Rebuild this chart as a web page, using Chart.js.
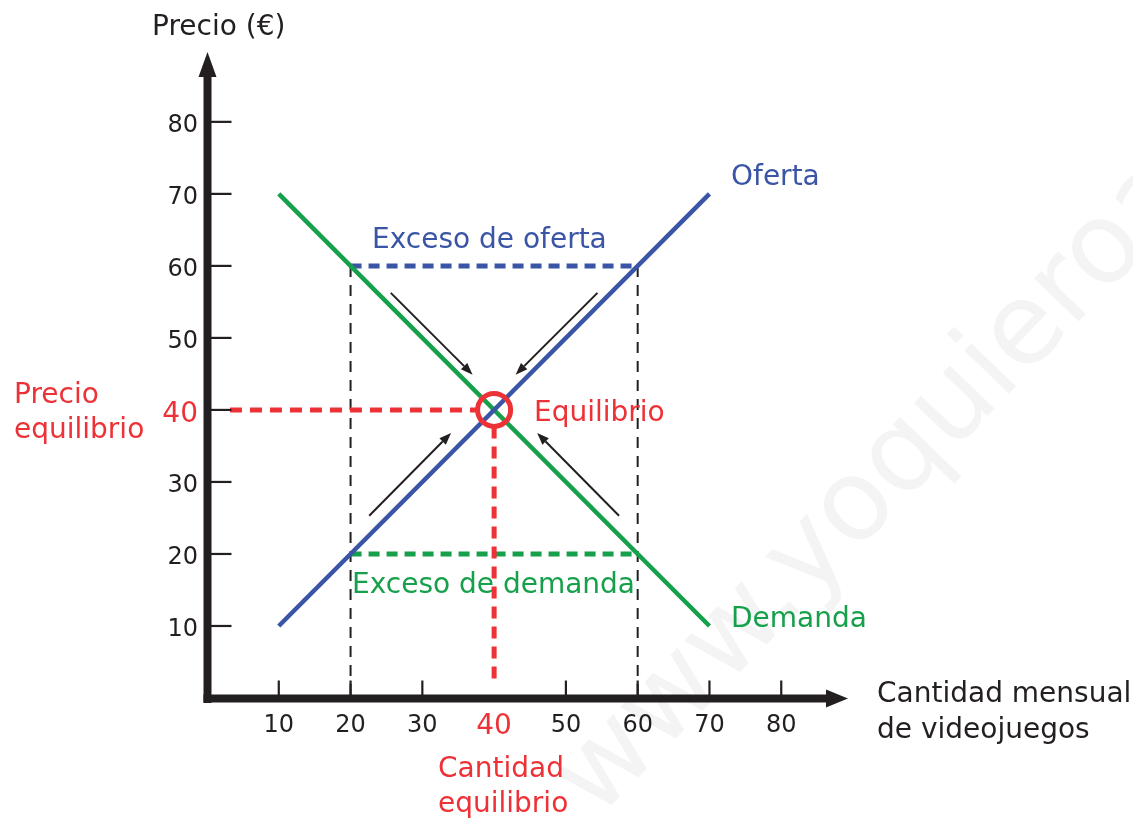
<!DOCTYPE html>
<html><head><meta charset="utf-8">
<script src="https://cdn.jsdelivr.net/npm/chart.js@4.4.0/dist/chart.umd.min.js"></script>
<style>html,body{margin:0;padding:0;background:#fff;}#wrap{width:1133px;height:819px;position:relative;}</style>
</head><body><div id="wrap"><canvas id="c" width="1133" height="819"></canvas></div>
<script>
// ---- data ----
const xTicks = [10, 20, 30, 40, 50, 60, 70, 80];
const yTicks = [10, 20, 30, 40, 50, 60, 70, 80];
const demandX = [10, 70], demandY = [70, 10];
const supplyX = [10, 70], supplyY = [10, 70];
const excessSupplyX = [20, 60], excessSupplyY = [60, 60];
const excessDemandX = [20, 60], excessDemandY = [20, 20];
const guideLeftX = [20, 20], guideRightX = [60, 60], guideY = [60, 0];
const eqQ = 40, eqP = 40;
const eqHorizX = [3.2, 38], eqVertY = [37.7, 2.3];
// arrows: [x1, y1, x2(tip), y2(tip)] in data units
const arrows = [[25.6, 56.25, 37.0, 44.9], [54.4, 56.25, 43.0, 44.9], [22.6, 25.3, 34.0, 36.8], [57.4, 25.3, 46.0, 36.8]];

const pts = (xs, ys) => xs.map((x, i) => ({x, y: ys[i]}));
const INK = '#231f20', RED = '#ed3237', BLUE = '#3a55a5', GREEN = '#17a04b';
const FONT = '"DejaVu Sans", Verdana, sans-serif';

const decor = {
  id: 'decor',
  beforeDatasetsDraw(chart) {
    const ctx = chart.ctx;
    ctx.save();
    ctx.translate(597, 820);
    ctx.rotate(-46 * Math.PI / 180);
    ctx.font = '113px ' + FONT;
    ctx.fillStyle = '#f4f4f4';
    ctx.textBaseline = 'alphabetic';
    ctx.fillText('www.yoquieroaprobar.es', 0, 0);
    ctx.restore();
  },
  afterDatasetsDraw(chart) {
    const ctx = chart.ctx, xs = chart.scales.x, ys = chart.scales.y;
    const X = v => xs.getPixelForValue(v), Y = v => ys.getPixelForValue(v);
    const ax = X(0) + 0.5, ay = Y(0) + 0.5;
    ctx.save();
    // ticks
    ctx.strokeStyle = INK; ctx.lineWidth = 2.2;
    yTicks.forEach(v => { ctx.beginPath(); ctx.moveTo(ax, Y(v)); ctx.lineTo(ax + 24, Y(v)); ctx.stroke(); });
    xTicks.forEach(v => { if (v === eqQ) return; ctx.beginPath(); ctx.moveTo(X(v), ay); ctx.lineTo(X(v), ay - 18); ctx.stroke(); });
    // axes
    ctx.lineWidth = 8; ctx.lineCap = 'butt';
    ctx.beginPath(); ctx.moveTo(ax, ay + 4.5); ctx.lineTo(ax, Y(ys.max) + 22); ctx.stroke();
    ctx.beginPath(); ctx.moveTo(ax - 4, ay); ctx.lineTo(X(xs.max) - 20, ay); ctx.stroke();
    ctx.fillStyle = INK;
    ctx.beginPath(); ctx.moveTo(ax, Y(ys.max)); ctx.lineTo(ax - 9, Y(ys.max) + 25); ctx.lineTo(ax + 9, Y(ys.max) + 25); ctx.closePath(); ctx.fill();
    ctx.beginPath(); ctx.moveTo(X(xs.max), ay); ctx.lineTo(X(xs.max) - 22, ay - 9); ctx.lineTo(X(xs.max) - 22, ay + 9); ctx.closePath(); ctx.fill();
    // arrows
    ctx.lineWidth = 2;
    arrows.forEach(a => {
      const x1 = X(a[0]), y1 = Y(a[1]), x2 = X(a[2]), y2 = Y(a[3]);
      const ang = Math.atan2(y2 - y1, x2 - x1), L = 12, W = 4.5;
      const bx = x2 - L * Math.cos(ang), by = y2 - L * Math.sin(ang);
      ctx.beginPath(); ctx.moveTo(x1, y1); ctx.lineTo(bx, by); ctx.stroke();
      ctx.beginPath(); ctx.moveTo(x2, y2);
      ctx.lineTo(bx + W * Math.sin(ang), by - W * Math.cos(ang));
      ctx.lineTo(bx - W * Math.sin(ang), by + W * Math.cos(ang));
      ctx.closePath(); ctx.fill();
    });
    // equilibrium circle
    ctx.strokeStyle = RED; ctx.lineWidth = 5;
    ctx.beginPath(); ctx.arc(X(eqQ), Y(eqP), 16.5, 0, Math.PI * 2); ctx.stroke();
    // tick labels
    ctx.textBaseline = 'alphabetic';
    ctx.font = '24px ' + FONT;
    ctx.fillStyle = INK; ctx.textAlign = 'right';
    yTicks.forEach(v => { if (v !== eqP) ctx.fillText(String(v), 198, Y(v) + 10); });
    ctx.textAlign = 'center';
    xTicks.forEach(v => { if (v !== eqQ) ctx.fillText(String(v), X(v), ay + 33); });
    ctx.font = '28px ' + FONT; ctx.fillStyle = RED;
    ctx.textAlign = 'right'; ctx.fillText(String(eqP), 198, Y(eqP) + 12);
    ctx.textAlign = 'center'; ctx.fillText(String(eqQ), X(eqQ), ay + 35);
    // annotation texts
    ctx.font = '28px ' + FONT; ctx.textAlign = 'left';
    const T = (s, x, y, c) => { ctx.fillStyle = c; ctx.fillText(s, x, y); };
    T('Precio (€)', 152, 35, INK);
    T('Oferta', 731, 185, BLUE);
    T('Exceso de oferta', 372, 248, BLUE);
    T('Equilibrio', 534, 421, RED);
    T('Exceso de demanda', 352, 593, GREEN);
    T('Demanda', 731, 627, GREEN);
    T('Precio', 14, 403, RED);
    T('equilibrio', 14, 438, RED);
    T('Cantidad', 438, 777, RED);
    T('equilibrio', 438, 812, RED);
    T('Cantidad mensual', 877, 702, INK);
    T('de videojuegos', 877, 738, INK);
    ctx.restore();
  }
};

const line = (data, color, width, dash, order) => ({
  data, borderColor: color, borderWidth: width, borderDash: dash || [], showLine: true,
  pointRadius: 0, pointHoverRadius: 0, fill: false, tension: 0, order, borderCapStyle: 'butt'
});

new Chart(document.getElementById('c'), {
  type: 'scatter',
  data: {
    datasets: [
      line(pts(guideLeftX, guideY), INK, 2, [11, 8], 9),
      line(pts(guideRightX, guideY), INK, 2, [11, 8], 9),
      line(pts(excessSupplyX, excessSupplyY), BLUE, 5, [11, 7], 6),
      line(pts(excessDemandX, excessDemandY), GREEN, 5, [11, 7], 6),
      line(pts(demandX, demandY), GREEN, 4.5, [], 4),
      line(pts(supplyX, supplyY), BLUE, 4.5, [], 3),
      line(pts(eqHorizX, [eqP, eqP]), RED, 5, [12, 8], 2),
      line(pts([eqQ, eqQ], eqVertY), RED, 5, [12, 8], 2)
    ]
  },
  options: {
    responsive: false, animation: false, devicePixelRatio: 1,
    layout: {padding: {left: 207, right: 285, top: 52, bottom: 121}},
    scales: {
      x: {type: 'linear', min: 0, max: 89.3, display: false},
      y: {type: 'linear', min: 0, max: 89.7, display: false}
    },
    plugins: {legend: {display: false}, tooltip: {enabled: false}},
    events: []
  },
  plugins: [decor]
});
</script></body></html>
